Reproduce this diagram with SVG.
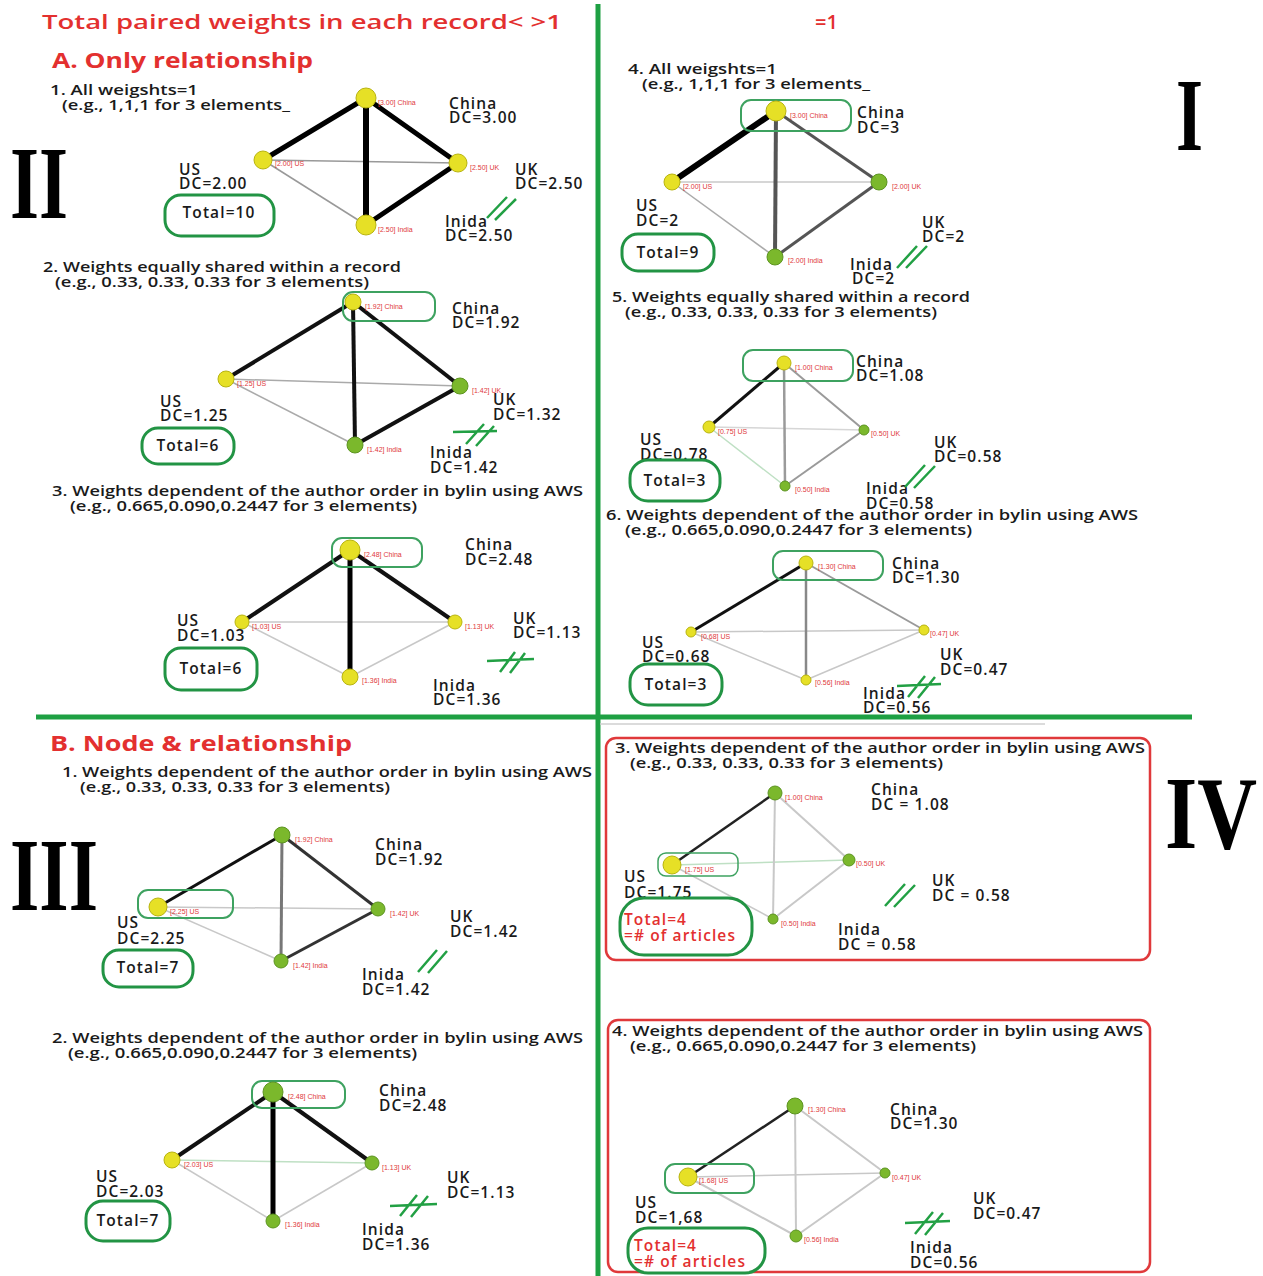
<svg xmlns="http://www.w3.org/2000/svg" width="1263" height="1276" viewBox="0 0 1263 1276">
<style>
text{font-family:"Open Sans","Liberation Sans",sans-serif;fill:#1a1a1a}
.t{font-size:15.5px;font-weight:600;letter-spacing:1.1px}
.h{font-size:14px;font-weight:600}
.s{font-size:7px;fill:#e0393b;font-family:"Liberation Sans",sans-serif}
.red{fill:#e3302f}
.big{font-family:"Liberation Serif","DejaVu Serif",serif;font-weight:bold;font-size:104px;fill:#000}
.ny{fill:#e6e026;stroke:#b8b410;stroke-width:1}
.ng{fill:#7bb82c;stroke:#5c9420;stroke-width:1}
.e1{stroke:#000;stroke-width:5;stroke-linecap:round}
.e2{stroke:#111;stroke-width:4}
.e3{stroke:#555;stroke-width:3}
.e4{stroke:#9a9a9a;stroke-width:2}
.e5{stroke:#c8c8c8;stroke-width:1.5}
.e6{stroke:#bfe0c4;stroke-width:1.5}
.box{fill:none;stroke:#229444;stroke-width:3}
.hl{fill:none;stroke:#3ea260;stroke-width:2}
.rb{fill:none;stroke:#e0393b;stroke-width:2.5}
.mk{stroke:#22a044;stroke-width:2.5;fill:none}
.div{stroke:#1ea043;stroke-width:5}
</style>

<g id="dividers">
<line class="div" x1="598" y1="4" x2="598" y2="1276"/>
<line class="div" x1="36" y1="717" x2="1192" y2="717"/>
<line x1="600" y1="724" x2="1045" y2="724" stroke="#cfcfcf" stroke-width="1.5"/>
</g>

<g id="titles">
<text x="42" y="29" font-size="20" font-weight="600" class="red" textLength="520" lengthAdjust="spacingAndGlyphs">Total paired weights in each record&lt; &gt;1</text>
<text x="815" y="29" font-size="20" font-weight="600" class="red">=1</text>
<text x="52" y="68" font-size="22" font-weight="bold" class="red" textLength="261" lengthAdjust="spacingAndGlyphs">A. Only relationship</text>
<text x="50" y="751" font-size="21" font-weight="bold" class="red" textLength="302" lengthAdjust="spacingAndGlyphs">B. Node &amp; relationship</text>
<text class="big" x="10" y="218" textLength="58" lengthAdjust="spacingAndGlyphs">II</text>
<text class="big" x="1176" y="150" textLength="27" lengthAdjust="spacingAndGlyphs">I</text>
<text class="big" x="10" y="910" textLength="88" lengthAdjust="spacingAndGlyphs">III</text>
<text class="big" x="1165" y="848" textLength="92" lengthAdjust="spacingAndGlyphs">IV</text>
</g>

<g id="connectors">
<!-- panel 1 -->
<line class="e5" x1="263" y1="160" x2="458" y2="163" style="stroke:#999"/>
<line class="e5" x1="263" y1="160" x2="366" y2="225" style="stroke:#999"/>
<line class="e1" x1="366" y1="98" x2="263" y2="160"/>
<line class="e1" x1="366" y1="98" x2="458" y2="163"/>
<line class="e1" x1="366" y1="98" x2="366" y2="225" style="stroke-width:6"/>
<line class="e1" x1="458" y1="163" x2="366" y2="225"/>
<!-- panel 2 -->
<line class="e5" x1="226" y1="379" x2="460" y2="386" style="stroke:#aaa"/>
<line class="e5" x1="226" y1="379" x2="355" y2="445" style="stroke:#aaa"/>
<line class="e2" x1="353" y1="302" x2="226" y2="379"/>
<line class="e2" x1="353" y1="302" x2="355" y2="445"/>
<line class="e2" x1="353" y1="302" x2="460" y2="386"/>
<line class="e2" x1="460" y1="386" x2="355" y2="445"/>
<!-- panel 3 -->
<line class="e5" x1="242" y1="622" x2="455" y2="622"/>
<line class="e5" x1="242" y1="622" x2="350" y2="677"/>
<line class="e5" x1="455" y1="622" x2="350" y2="677"/>
<line class="e2" x1="350" y1="550" x2="242" y2="622"/>
<line class="e2" x1="350" y1="550" x2="455" y2="622"/>
<line class="e1" x1="350" y1="550" x2="350" y2="677"/>
<!-- panel 4 -->
<line class="e5" x1="672" y1="182" x2="879" y2="182"/>
<line class="e5" x1="672" y1="182" x2="775" y2="257" style="stroke:#aaa"/>
<line class="e1" x1="776" y1="111" x2="672" y2="182" style="stroke-width:6"/>
<line class="e3" x1="776" y1="111" x2="775" y2="257" style="stroke-width:4"/>
<line class="e3" x1="776" y1="111" x2="879" y2="182"/>
<line class="e3" x1="879" y1="182" x2="775" y2="257"/>
<!-- panel 5 -->
<line class="e5" x1="709" y1="427" x2="864" y2="430" style="stroke:#d6d6d6"/>
<line class="e6" x1="709" y1="427" x2="785" y2="486"/>
<line class="e2" x1="784" y1="363" x2="709" y2="427" style="stroke-width:3"/>
<line class="e4" x1="784" y1="363" x2="785" y2="486" style="stroke-width:2.5"/>
<line class="e4" x1="784" y1="363" x2="864" y2="430"/>
<line class="e4" x1="864" y1="430" x2="785" y2="486"/>
<!-- panel 6 -->
<line class="e5" x1="691" y1="632" x2="924" y2="630"/>
<line class="e5" x1="691" y1="632" x2="806" y2="680"/>
<line class="e5" x1="924" y1="630" x2="806" y2="680"/>
<line class="e2" x1="806" y1="563" x2="691" y2="632" style="stroke-width:3"/>
<line class="e4" x1="806" y1="563" x2="806" y2="680" style="stroke-width:2.5;stroke:#888"/>
<line class="e4" x1="806" y1="563" x2="924" y2="630"/>
<!-- panel 7 -->
<line class="e5" x1="158" y1="907" x2="378" y2="909"/>
<line class="e5" x1="158" y1="907" x2="281" y2="961"/>
<line class="e2" x1="282" y1="835" x2="158" y2="907" style="stroke-width:3"/>
<line class="e3" x1="282" y1="835" x2="281" y2="961" style="stroke:#777"/>
<line class="e3" x1="282" y1="835" x2="378" y2="909" style="stroke:#333"/>
<line class="e3" x1="378" y1="909" x2="281" y2="961" style="stroke:#333"/>
<!-- panel 8 -->
<line class="e6" x1="672" y1="865" x2="849" y2="860"/>
<line class="e5" x1="672" y1="865" x2="773" y2="919"/>
<line class="e2" x1="775" y1="793" x2="672" y2="865" style="stroke-width:2.5;stroke:#222"/>
<line class="e5" x1="775" y1="793" x2="773" y2="919" style="stroke-width:2"/>
<line class="e5" x1="775" y1="793" x2="849" y2="860" style="stroke-width:2"/>
<line class="e5" x1="849" y1="860" x2="773" y2="919" style="stroke-width:2"/>
<!-- panel 9 -->
<line class="e6" x1="172" y1="1160" x2="372" y2="1163"/>
<line class="e5" x1="172" y1="1160" x2="273" y2="1221"/>
<line class="e5" x1="372" y1="1163" x2="273" y2="1221"/>
<line class="e2" x1="273" y1="1092" x2="172" y2="1160"/>
<line class="e2" x1="273" y1="1092" x2="372" y2="1163"/>
<line class="e1" x1="273" y1="1092" x2="273" y2="1221"/>
<!-- panel 10 -->
<line class="e5" x1="688" y1="1177" x2="885" y2="1173"/>
<line class="e5" x1="688" y1="1177" x2="796" y2="1236" style="stroke-width:2"/>
<line class="e5" x1="885" y1="1173" x2="796" y2="1236" style="stroke-width:2"/>
<line class="e2" x1="795" y1="1106" x2="688" y2="1177" style="stroke-width:2.5;stroke:#222"/>
<line class="e5" x1="795" y1="1106" x2="796" y2="1236" style="stroke-width:2"/>
<line class="e5" x1="795" y1="1106" x2="885" y2="1173" style="stroke-width:2"/>
</g>

<g id="panel-A1">
<text class="h" x="50" y="95" textLength="148" lengthAdjust="spacingAndGlyphs">1. All weigshts=1</text>
<text class="h" x="62" y="110" textLength="228" lengthAdjust="spacingAndGlyphs">(e.g., 1,1,1 for 3 elements_</text>
<circle class="ny" cx="366" cy="98" r="10"/><circle class="ny" cx="263" cy="160" r="9"/>
<circle class="ny" cx="458" cy="163" r="9"/><circle class="ny" cx="366" cy="225" r="10"/>
<text class="s" x="378" y="105">[3.00] China</text><text class="s" x="275" y="166">[2.00] US</text>
<text class="s" x="470" y="170">[2.50] UK</text><text class="s" x="378" y="232">[2.50] India</text>
<text class="t" x="449" y="109">China</text><text class="t" x="449" y="123">DC=3.00</text>
<text class="t" x="179" y="175">US</text><text class="t" x="179" y="189">DC=2.00</text>
<text class="t" x="515" y="175">UK</text><text class="t" x="515" y="189">DC=2.50</text>
<text class="t" x="445" y="227">Inida</text><text class="t" x="445" y="241">DC=2.50</text>
<rect class="box" x="165" y="195" width="109" height="41" rx="16"/>
<text class="t" x="219" y="218" text-anchor="middle">Total=10</text>
<path class="mk" d="M487 218 L507 197 M495 220 L516 199"/>
</g>

<g id="panel-A2">
<text class="h" x="43" y="272" textLength="358" lengthAdjust="spacingAndGlyphs">2. Weights equally shared within a record</text>
<text class="h" x="55" y="287" textLength="314" lengthAdjust="spacingAndGlyphs">(e.g., 0.33, 0.33, 0.33 for 3 elements)</text>
<rect class="hl" x="343" y="292" width="92" height="29" rx="10"/>
<circle class="ny" cx="353" cy="302" r="8"/><circle class="ny" cx="226" cy="379" r="8"/>
<circle class="ng" cx="460" cy="386" r="8"/><circle class="ng" cx="355" cy="445" r="8"/>
<text class="s" x="365" y="309">[1.92] China</text><text class="s" x="237" y="386">[1.25] US</text>
<text class="s" x="472" y="393">[1.42] UK</text><text class="s" x="367" y="452">[1.42] India</text>
<text class="t" x="452" y="314">China</text><text class="t" x="452" y="328">DC=1.92</text>
<text class="t" x="160" y="407">US</text><text class="t" x="160" y="421">DC=1.25</text>
<text class="t" x="493" y="405">UK</text><text class="t" x="493" y="420">DC=1.32</text>
<text class="t" x="430" y="458">Inida</text><text class="t" x="430" y="473">DC=1.42</text>
<rect class="box" x="142" y="428" width="92" height="36" rx="16"/>
<text class="t" x="188" y="451" text-anchor="middle">Total=6</text>
<path class="mk" d="M453 432 L497 431 M466 444 L484 424 M476 446 L494 426"/>
</g>

<g id="panel-A3">
<text class="h" x="52" y="496" textLength="531" lengthAdjust="spacingAndGlyphs">3. Weights dependent of the author order in bylin using AWS</text>
<text class="h" x="70" y="511" textLength="347" lengthAdjust="spacingAndGlyphs">(e.g., 0.665,0.090,0.2447 for 3 elements)</text>
<rect class="hl" x="332" y="538" width="90" height="29" rx="10"/>
<circle class="ny" cx="350" cy="550" r="10"/><circle class="ny" cx="242" cy="622" r="7"/>
<circle class="ny" cx="455" cy="622" r="7"/><circle class="ny" cx="350" cy="677" r="8"/>
<text class="s" x="364" y="557">[2.48] China</text><text class="s" x="252" y="629">[1.03] US</text>
<text class="s" x="465" y="629">[1.13] UK</text><text class="s" x="362" y="683">[1.36] India</text>
<text class="t" x="465" y="550">China</text><text class="t" x="465" y="565">DC=2.48</text>
<text class="t" x="177" y="626">US</text><text class="t" x="177" y="641">DC=1.03</text>
<text class="t" x="513" y="624">UK</text><text class="t" x="513" y="638">DC=1.13</text>
<text class="t" x="433" y="691">Inida</text><text class="t" x="433" y="705">DC=1.36</text>
<rect class="box" x="165" y="648" width="92" height="42" rx="16"/>
<text class="t" x="211" y="674" text-anchor="middle">Total=6</text>
<path class="mk" d="M487 661 L534 659 M500 672 L515 652 M510 673 L525 653"/>
</g>

<g id="panel-I4">
<text class="h" x="628" y="74" textLength="149" lengthAdjust="spacingAndGlyphs">4. All weigshts=1</text>
<text class="h" x="642" y="89" textLength="228" lengthAdjust="spacingAndGlyphs">(e.g., 1,1,1 for 3 elements_</text>
<rect class="hl" x="741" y="100" width="110" height="31" rx="10"/>
<circle class="ny" cx="776" cy="111" r="10"/><circle class="ny" cx="672" cy="182" r="8"/>
<circle class="ng" cx="879" cy="182" r="8"/><circle class="ng" cx="775" cy="257" r="8"/>
<text class="s" x="790" y="118">[3.00] China</text><text class="s" x="683" y="189">[2.00] US</text>
<text class="s" x="892" y="189">[2.00] UK</text><text class="s" x="788" y="263">[2.00] India</text>
<text class="t" x="857" y="118">China</text><text class="t" x="857" y="133">DC=3</text>
<text class="t" x="636" y="211">US</text><text class="t" x="636" y="226">DC=2</text>
<text class="t" x="922" y="228">UK</text><text class="t" x="922" y="242">DC=2</text>
<text class="t" x="850" y="270">Inida</text><text class="t" x="852" y="284">DC=2</text>
<rect class="box" x="622" y="234" width="92" height="37" rx="16"/>
<text class="t" x="668" y="258" text-anchor="middle">Total=9</text>
<path class="mk" d="M897 268 L917 246 M906 268 L927 246"/>
</g>

<g id="panel-I5">
<text class="h" x="612" y="302" textLength="358" lengthAdjust="spacingAndGlyphs">5. Weights equally shared within a record</text>
<text class="h" x="625" y="317" textLength="312" lengthAdjust="spacingAndGlyphs">(e.g., 0.33, 0.33, 0.33 for 3 elements)</text>
<rect class="hl" x="743" y="350" width="110" height="31" rx="10"/>
<circle class="ny" cx="784" cy="363" r="7"/><circle class="ny" cx="709" cy="427" r="6"/>
<circle class="ng" cx="864" cy="430" r="5"/><circle class="ng" cx="785" cy="486" r="5"/>
<text class="s" x="795" y="370">[1.00] China</text><text class="s" x="718" y="434">[0.75] US</text>
<text class="s" x="871" y="436">[0.50] UK</text><text class="s" x="795" y="492">[0.50] India</text>
<text class="t" x="856" y="367">China</text><text class="t" x="856" y="381">DC=1.08</text>
<text class="t" x="640" y="445">US</text><text class="t" x="640" y="460">DC=0.78</text>
<text class="t" x="934" y="448">UK</text><text class="t" x="934" y="462">DC=0.58</text>
<text class="t" x="866" y="494">Inida</text><text class="t" x="866" y="509">DC=0.58</text>
<rect class="box" x="630" y="460" width="90" height="41" rx="18" style="fill:#fff"/>
<text class="t" x="675" y="486" text-anchor="middle">Total=3</text>
<path class="mk" d="M905 487 L925 465 M914 488 L935 466"/>
</g>

<g id="panel-I6">
<text class="h" x="606" y="520" textLength="532" lengthAdjust="spacingAndGlyphs">6. Weights dependent of the author order in bylin using AWS</text>
<text class="h" x="625" y="535" textLength="347" lengthAdjust="spacingAndGlyphs">(e.g., 0.665,0.090,0.2447 for 3 elements)</text>
<rect class="hl" x="773" y="551" width="110" height="29" rx="10"/>
<circle class="ny" cx="806" cy="563" r="7"/><circle class="ny" cx="691" cy="632" r="5"/>
<circle class="ny" cx="924" cy="630" r="5"/><circle class="ny" cx="806" cy="680" r="5"/>
<text class="s" x="818" y="569">[1.30] China</text><text class="s" x="701" y="639">[0.68] US</text>
<text class="s" x="930" y="636">[0.47] UK</text><text class="s" x="815" y="685">[0.56] India</text>
<text class="t" x="892" y="569">China</text><text class="t" x="892" y="583">DC=1.30</text>
<text class="t" x="940" y="660">UK</text><text class="t" x="940" y="675">DC=0.47</text>
<text class="t" x="642" y="648">US</text><text class="t" x="642" y="662">DC=0.68</text>
<text class="t" x="863" y="699">Inida</text><text class="t" x="863" y="713">DC=0.56</text>
<rect class="box" x="630" y="664" width="92" height="41" rx="18" style="fill:#fff"/>
<text class="t" x="676" y="690" text-anchor="middle">Total=3</text>
<path class="mk" d="M897 686 L941 684 M908 697 L925 676 M918 698 L935 677"/>
</g>

<g id="panel-III1">
<text class="h" x="62" y="777" textLength="530" lengthAdjust="spacingAndGlyphs">1. Weights dependent of the author order in bylin using AWS</text>
<text class="h" x="80" y="792" textLength="310" lengthAdjust="spacingAndGlyphs">(e.g., 0.33, 0.33, 0.33 for 3 elements)</text>
<rect class="hl" x="138" y="890" width="95" height="28" rx="10"/>
<circle class="ng" cx="282" cy="835" r="8"/><circle class="ny" cx="158" cy="907" r="9"/>
<circle class="ng" cx="378" cy="909" r="7"/><circle class="ng" cx="281" cy="961" r="7"/>
<text class="s" x="295" y="842">[1.92] China</text><text class="s" x="170" y="914">[2.25] US</text>
<text class="s" x="390" y="916">[1.42] UK</text><text class="s" x="293" y="968">[1.42] India</text>
<text class="t" x="375" y="850">China</text><text class="t" x="375" y="865">DC=1.92</text>
<text class="t" x="117" y="928">US</text><text class="t" x="117" y="944">DC=2.25</text>
<text class="t" x="450" y="922">UK</text><text class="t" x="450" y="937">DC=1.42</text>
<text class="t" x="362" y="980">Inida</text><text class="t" x="362" y="995">DC=1.42</text>
<rect class="box" x="103" y="950" width="90" height="37" rx="16"/>
<text class="t" x="148" y="973" text-anchor="middle">Total=7</text>
<path class="mk" d="M418 972 L437 950 M428 973 L447 951"/>
</g>

<g id="panel-IV3">
<rect class="rb" x="606" y="738" width="544" height="222" rx="10"/>
<text class="h" x="615" y="753" textLength="530" lengthAdjust="spacingAndGlyphs">3. Weights dependent of the author order in bylin using AWS</text>
<text class="h" x="630" y="768" textLength="313" lengthAdjust="spacingAndGlyphs">(e.g., 0.33, 0.33, 0.33 for 3 elements)</text>
<rect class="hl" x="658" y="853" width="80" height="23" rx="8" style="stroke-width:1.5"/>
<circle class="ng" cx="775" cy="793" r="7"/><circle class="ny" cx="672" cy="865" r="9"/>
<circle class="ng" cx="849" cy="860" r="6"/><circle class="ng" cx="773" cy="919" r="5"/>
<text class="s" x="785" y="800">[1.00] China</text><text class="s" x="685" y="872">[1.75] US</text>
<text class="s" x="856" y="866">[0.50] UK</text><text class="s" x="781" y="926">[0.50] India</text>
<text class="t" x="871" y="795">China</text><text class="t" x="871" y="810">DC = 1.08</text>
<text class="t" x="624" y="882">US</text><text class="t" x="624" y="898">DC=1.75</text>
<text class="t" x="932" y="886">UK</text><text class="t" x="932" y="901">DC = 0.58</text>
<text class="t" x="838" y="935">Inida</text><text class="t" x="838" y="950">DC = 0.58</text>
<rect class="box" x="620" y="898" width="132" height="57" rx="24" style="fill:#fff"/>
<text class="t red" x="624" y="925">Total=4</text>
<text class="t red" x="624" y="941">=# of articles</text>
<path class="mk" d="M885 906 L905 884 M894 907 L915 885"/>
</g>

<g id="panel-III2">
<text class="h" x="52" y="1043" textLength="531" lengthAdjust="spacingAndGlyphs">2. Weights dependent of the author order in bylin using AWS</text>
<text class="h" x="68" y="1058" textLength="349" lengthAdjust="spacingAndGlyphs">(e.g., 0.665,0.090,0.2447 for 3 elements)</text>
<rect class="hl" x="252" y="1081" width="93" height="27" rx="10"/>
<circle class="ng" cx="273" cy="1092" r="10"/><circle class="ny" cx="172" cy="1160" r="8"/>
<circle class="ng" cx="372" cy="1163" r="7"/><circle class="ng" cx="273" cy="1221" r="7"/>
<text class="s" x="288" y="1099">[2.48] China</text><text class="s" x="184" y="1167">[2.03] US</text>
<text class="s" x="382" y="1170">[1.13] UK</text><text class="s" x="285" y="1227">[1.36] India</text>
<text class="t" x="379" y="1096">China</text><text class="t" x="379" y="1111">DC=2.48</text>
<text class="t" x="96" y="1182">US</text><text class="t" x="96" y="1197">DC=2.03</text>
<text class="t" x="447" y="1183">UK</text><text class="t" x="447" y="1198">DC=1.13</text>
<text class="t" x="362" y="1235">Inida</text><text class="t" x="362" y="1250">DC=1.36</text>
<rect class="box" x="86" y="1201" width="84" height="40" rx="17"/>
<text class="t" x="128" y="1226" text-anchor="middle">Total=7</text>
<path class="mk" d="M390 1206 L437 1204 M400 1216 L417 1195 M411 1217 L428 1196"/>
</g>

<g id="panel-IV4">
<rect class="rb" x="608" y="1020" width="542" height="252" rx="10"/>
<text class="h" x="612" y="1036" textLength="531" lengthAdjust="spacingAndGlyphs">4. Weights dependent of the author order in bylin using AWS</text>
<text class="h" x="630" y="1051" textLength="346" lengthAdjust="spacingAndGlyphs">(e.g., 0.665,0.090,0.2447 for 3 elements)</text>
<rect class="hl" x="665" y="1164" width="89" height="29" rx="10"/>
<circle class="ng" cx="795" cy="1106" r="8"/><circle class="ny" cx="688" cy="1177" r="9"/>
<circle class="ng" cx="885" cy="1173" r="5"/><circle class="ng" cx="796" cy="1236" r="6"/>
<text class="s" x="808" y="1112">[1.30] China</text><text class="s" x="699" y="1183">[1.68] US</text>
<text class="s" x="892" y="1180">[0.47] UK</text><text class="s" x="804" y="1242">[0.56] India</text>
<text class="t" x="890" y="1115">China</text><text class="t" x="890" y="1129">DC=1.30</text>
<text class="t" x="635" y="1208">US</text><text class="t" x="635" y="1223">DC=1,68</text>
<text class="t" x="973" y="1204">UK</text><text class="t" x="973" y="1219">DC=0.47</text>
<text class="t" x="910" y="1253">Inida</text><text class="t" x="910" y="1268">DC=0.56</text>
<rect class="box" x="628" y="1228" width="137" height="45" rx="20" style="fill:#fff"/>
<text class="t red" x="634" y="1251">Total=4</text>
<text class="t red" x="634" y="1267">=# of articles</text>
<path class="mk" d="M905 1223 L950 1221 M915 1234 L933 1212 M925 1235 L943 1213"/>
</g>
</svg>
